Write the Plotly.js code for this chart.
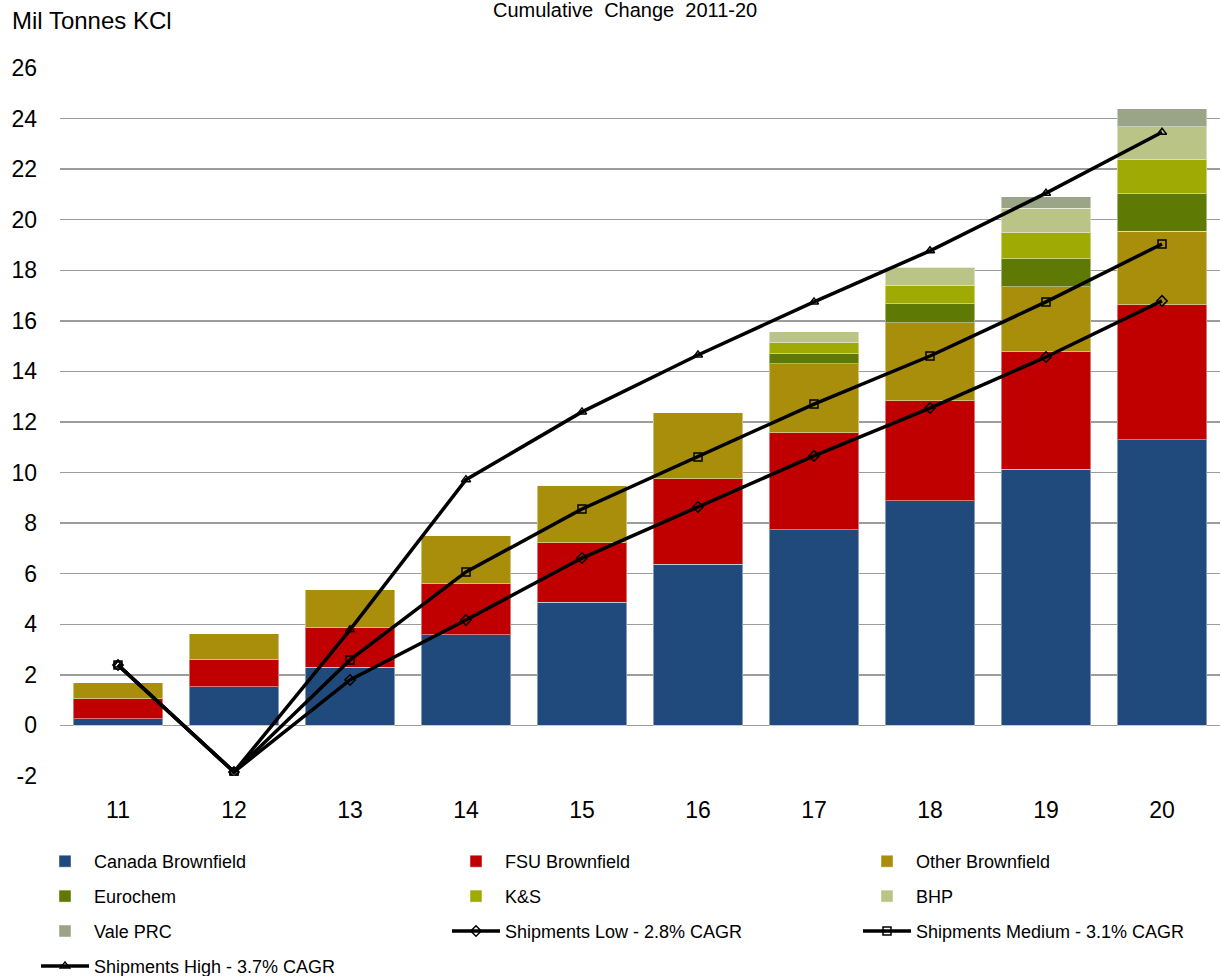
<!DOCTYPE html>
<html>
<head>
<meta charset="utf-8">
<script src="https://cdn.plot.ly/plotly-3.0.1.min.js"></script>
<style>
  html, body { margin: 0; padding: 0; background: #fff; }
  #chart { width: 1221px; height: 976px; }
</style>
</head>
<body>
<div id="chart"></div>
<script>
// Years (2011-2020) shown as two-digit labels
const years = ['11', '12', '13', '14', '15', '16', '17', '18', '19', '20'];

// Value-axis ticks, written with a plain hyphen for the negative value
const yTickVals = [-2, 0, 2, 4, 6, 8, 10, 12, 14, 16, 18, 20, 22, 24, 26];
const yTickText = ['-2', '0', '2', '4', '6', '8', '10', '12', '14', '16', '18', '20', '22', '24', '26'];

// Cumulative capacity additions by source, Mil Tonnes KCl (stack segment sizes)
const canadaBrownfield = [0.26, 1.52, 2.31, 3.58, 4.88, 6.38, 7.73, 8.88, 10.14, 11.29];
const fsuBrownfield    = [0.79, 1.07, 1.55, 2.02, 2.34, 3.37, 3.84, 3.96, 4.63, 5.34];
const otherBrownfield  = [0.63, 1.03, 1.50, 1.90, 2.28, 2.61, 2.73, 3.08, 2.57, 2.92];
const eurochem         = [0, 0, 0, 0, 0, 0, 0.40, 0.75, 1.11, 1.47];
const kAndS            = [0, 0, 0, 0, 0, 0, 0.43, 0.71, 1.03, 1.35];
const bhp              = [0, 0, 0, 0, 0, 0, 0.43, 0.75, 0.98, 1.30];
const valePrc          = [0, 0, 0, 0, 0, 0, 0, 0, 0.44, 0.71];

// Cumulative shipment change scenarios
const shipmentsLow    = [2.39, -1.84, 1.80, 4.17, 6.62, 8.64, 10.66, 12.55, 14.57, 16.79];
const shipmentsMedium = [2.39, -1.84, 2.59, 6.07, 8.56, 10.62, 12.71, 14.61, 16.75, 19.04];
const shipmentsHigh   = [2.39, -1.84, 3.78, 9.72, 12.40, 14.65, 16.75, 18.77, 21.05, 23.46];

const FONT = 'Liberation Sans, Arial, sans-serif';

// Three legend columns, filled row by row
function barTrace(name, values, color, legendId) {
  return {
    type: 'bar', name: name, x: years, y: values, legend: legendId, legendgroup: name,
    marker: { color: color, line: { color: 'rgba(255,255,255,0.45)', width: 1 } },
    hoverinfo: 'name+y'
  };
}

function lineTrace(name, values, symbol, legendId) {
  return {
    type: 'scatter', mode: 'lines+markers', name: name, x: years, y: values,
    legend: legendId, legendgroup: name,
    line: { color: '#000000', width: 3.5 },
    marker: { symbol: symbol, size: 8, color: '#000000', line: { color: '#000000', width: 1.5 } }
  };
}

const traces = [
  barTrace('Canada Brownfield', canadaBrownfield, '#214A7C', 'legend'),
  barTrace('FSU Brownfield', fsuBrownfield, '#C00000', 'legend2'),
  barTrace('Other Brownfield', otherBrownfield, '#A88E0B', 'legend3'),
  barTrace('Eurochem', eurochem, '#5F7A04', 'legend'),
  barTrace('K&S', kAndS, '#9FAA04', 'legend2'),
  barTrace('BHP', bhp, '#BBC487', 'legend3'),
  barTrace('Vale PRC', valePrc, '#9AA587', 'legend'),
  lineTrace('Shipments Low - 2.8% CAGR', shipmentsLow, 'diamond-open', 'legend2'),
  lineTrace('Shipments Medium - 3.1% CAGR', shipmentsMedium, 'square-open', 'legend3'),
  lineTrace('Shipments High - 3.7% CAGR', shipmentsHigh, 'triangle-up-open', 'legend')
];

function legendColumn(xPx) {
  return {
    orientation: 'v', traceorder: 'grouped',
    x: xPx / 1221, xref: 'container', xanchor: 'left',
    y: 1 - 843 / 976, yref: 'container', yanchor: 'top',
    itemwidth: 48,
    bgcolor: 'rgba(0,0,0,0)',
    font: { family: FONT, size: 18, color: '#000000' },
    tracegroupgap: 8.5
  };
}

const layout = {
  width: 1221, height: 976,
  margin: { l: 60, r: 1, t: 68, b: 200, autoexpand: false },
  paper_bgcolor: '#ffffff', plot_bgcolor: '#ffffff',
  font: { family: FONT, color: '#000000', size: 22 },
  barmode: 'stack',
  bargap: 0.23,
  showlegend: true,
  legend: legendColumn(36),
  legend2: legendColumn(447),
  legend3: legendColumn(858),
  xaxis: {
    type: 'category', range: [-0.5, 9.5],
    showgrid: false, zeroline: false, showline: false,
    ticks: '', ticklabelstandoff: 18,
    tickfont: { family: FONT, size: 23 }
  },
  yaxis: {
    range: [-2, 26], tickvals: yTickVals, ticktext: yTickText,
    showgrid: true, gridcolor: '#9C9C9C', gridwidth: 1.5,
    zeroline: false, showline: false, ticks: '',
    ticklabelstandoff: 22,
    tickfont: { family: FONT, size: 23 }
  },
  annotations: [
    {
      text: 'Mil Tonnes KCl', xref: 'paper', yref: 'paper',
      x: -0.043, y: 1.067, xanchor: 'left', yanchor: 'middle',
      showarrow: false, font: { family: FONT, size: 24, color: '#000000' }
    },
    {
      text: 'Cumulative&nbsp;&nbsp;Change&nbsp;&nbsp;2011-20', xref: 'paper', yref: 'paper',
      x: 0.487, y: 1.082, xanchor: 'center', yanchor: 'middle',
      showarrow: false, font: { family: FONT, size: 20, color: '#000000' }
    }
  ]
};

Plotly.newPlot('chart', traces, layout, { displayModeBar: false, staticPlot: true });
</script>
</body>
</html>
